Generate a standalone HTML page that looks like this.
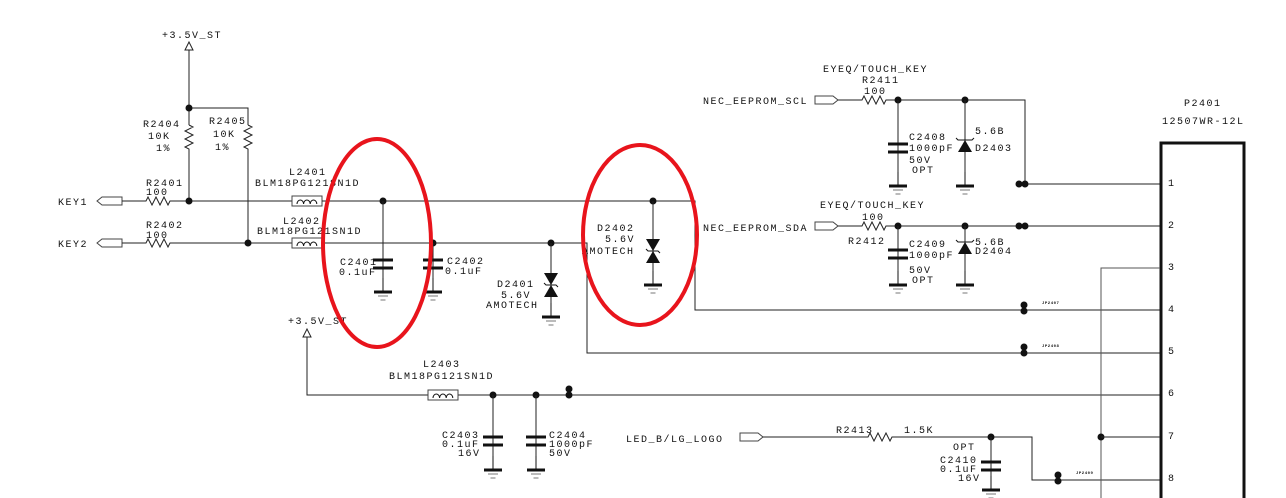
<!DOCTYPE html>
<html><head><meta charset="utf-8"><style>
html,body{margin:0;padding:0;background:#fff;}
svg{display:block;}
text{font-family:"Liberation Mono",monospace;font-size:10px;letter-spacing:1.5px;fill:#111;}
.w{stroke:#222;stroke-width:1;fill:none;}
.g{stroke:#555;stroke-width:1;fill:none;}
.small{font-size:4px;letter-spacing:0.5px;font-weight:bold;}
</style></head><body>
<svg width="1286" height="498" viewBox="0 0 1286 498" xmlns="http://www.w3.org/2000/svg">
<defs>
  <g id="gnd"><line x1="0" y1="-14" x2="0" y2="0" stroke="#111"/><rect x="-9" y="-1.5" width="18" height="3" fill="#111"/><line x1="-5" y1="4" x2="5" y2="4" stroke="#777"/><line x1="-2.5" y1="8" x2="2.5" y2="8" stroke="#777"/></g>
  <g id="cap"><rect x="-10" y="-5.5" width="20" height="3" fill="#111"/><rect x="-10" y="2.5" width="20" height="3" fill="#111"/></g>
  <g id="ind"><rect x="0" y="-5" width="30" height="10" fill="#fff" stroke="#444"/><path d="M5,3 a3.3,4 0 1 1 6.6,0 a3.3,4 0 1 1 6.6,0 a3.3,4 0 1 1 6.6,0" fill="none" stroke="#111"/></g>
  <g id="tvs"><polygon points="-7,0 7,0 0,12" fill="#111"/><polygon points="-7,24 7,24 0,12" fill="#111"/><path d="M-7,10 l2,2 h10 l2,2" stroke="#111" fill="none"/></g>
  <g id="zen"><polygon points="-7,12 7,12 0,0" fill="#111"/><path d="M-9,-2 l2,2 h14 l2,-2" stroke="#111" fill="none"/></g>
  <g id="dd"><circle cx="0" cy="0" r="3.5" fill="#111"/><circle cx="0" cy="6" r="3.5" fill="#111"/></g>
  <g id="ddh"><circle cx="0" cy="0" r="3.5" fill="#111"/><circle cx="6" cy="0" r="3.5" fill="#111"/></g>
</defs>

<!-- top +3.5V_ST -->
<text x="162" y="38">+3.5V_ST</text>
<polygon points="189,42 185,50 193,50" fill="#fff" stroke="#222"/>
<path class="w" d="M189,50 V125 M189,108 H248 V125"/>
<path class="w" d="M189,125 l4,2 l-8,4 l8,4 l-8,4 l8,4 l-8,4 l4,2 V201"/>
<path class="w" d="M248,125 l4,2 l-8,4 l8,4 l-8,4 l8,4 l-8,4 l4,2 V243"/>
<circle cx="189" cy="108" r="3.5" fill="#111"/>
<text x="143" y="127">R2404</text><text x="148" y="139">10K</text><text x="156" y="151">1%</text>
<text x="209" y="124">R2405</text><text x="213" y="137">10K</text><text x="215" y="150">1%</text>

<!-- KEY lines -->
<text x="58" y="205">KEY1</text>
<path d="M97,201 l5,-4 h20 v8 h-20 z" fill="#fff" stroke="#444"/>
<path class="w" d="M122,201 H146 l2,-4 l4,8 l4,-8 l4,8 l4,-8 l4,8 l2,-4 H293"/>
<text x="146" y="186">R2401</text><text x="146" y="195">100</text>
<circle cx="189" cy="201" r="3.5" fill="#111"/>
<text x="58" y="247">KEY2</text>
<path d="M97,243 l5,-4 h20 v8 h-20 z" fill="#fff" stroke="#444"/>
<path class="w" d="M122,243 H146 l2,-4 l4,8 l4,-8 l4,8 l4,-8 l4,8 l2,-4 H293"/>
<text x="146" y="228">R2402</text><text x="146" y="238">100</text>
<circle cx="248" cy="243" r="3.5" fill="#111"/>

<use href="#ind" x="292" y="201"/>
<use href="#ind" x="292" y="243"/>
<text x="289" y="175">L2401</text><text x="255" y="186">BLM18PG121SN1D</text>
<text x="283" y="224">L2402</text><text x="257" y="234">BLM18PG121SN1D</text>

<path class="w" d="M322,201 H695 V310 H1160"/>
<path class="w" d="M322,243 H587 V353 H1160"/>
<circle cx="383" cy="201" r="3.5" fill="#111"/>
<path class="w" d="M383,201 V292"/>
<use href="#cap" x="383" y="264"/>
<use href="#gnd" x="383" y="292"/>
<text x="340" y="265">C2401</text><text x="339" y="275">0.1uF</text>
<circle cx="433" cy="243" r="3.5" fill="#111"/>
<path class="w" d="M433,243 V292"/>
<use href="#cap" x="433" y="264"/>
<use href="#gnd" x="433" y="292"/>
<text x="447" y="264">C2402</text><text x="445" y="274">0.1uF</text>
<circle cx="551" cy="243" r="3.5" fill="#111"/>
<path class="w" d="M551,243 V316"/>
<use href="#tvs" x="551" y="273"/>
<use href="#gnd" x="551" y="317"/>
<text x="497" y="287">D2401</text><text x="501" y="298">5.6V</text><text x="486" y="308">AMOTECH</text>
<circle cx="653" cy="201" r="3.5" fill="#111"/>
<path class="w" d="M653,201 V284"/>
<use href="#tvs" x="653" y="239"/>
<use href="#gnd" x="653" y="285"/>
<text x="597" y="231">D2402</text><text x="605" y="242">5.6V</text><text x="582" y="254">AMOTECH</text>

<!-- top right SCL -->
<text x="823" y="72">EYEQ/TOUCH_KEY</text><text x="862" y="83">R2411</text><text x="864" y="94">100</text>
<text x="703" y="104">NEC_EEPROM_SCL</text>
<path d="M815,96 h18 l5,4 l-5,4 h-18 z" fill="#fff" stroke="#444"/>
<path class="w" d="M838,100 H862 l2,-4 l4,8 l4,-8 l4,8 l4,-8 l4,8 l2,-4 H1025 V184 H1160"/>
<circle cx="898" cy="100" r="3.5" fill="#111"/><circle cx="965" cy="100" r="3.5" fill="#111"/>
<path class="w" d="M898,100 V185 M965,100 V185"/>
<use href="#cap" x="898" y="148"/><use href="#gnd" x="898" y="186"/>
<use href="#zen" x="965" y="140"/><use href="#gnd" x="965" y="186"/>
<text x="909" y="140">C2408</text><text x="909" y="151">1000pF</text><text x="909" y="163">50V</text><text x="912" y="173">OPT</text>
<text x="975" y="134">5.6B</text><text x="975" y="151">D2403</text>
<use href="#ddh" x="1019" y="184"/>

<!-- SDA -->
<text x="820" y="208">EYEQ/TOUCH_KEY</text><text x="862" y="220">100</text><text x="848" y="244">R2412</text>
<text x="703" y="231">NEC_EEPROM_SDA</text>
<path d="M815,222 h18 l5,4 l-5,4 h-18 z" fill="#fff" stroke="#444"/>
<path class="w" d="M838,226 H862 l2,-4 l4,8 l4,-8 l4,8 l4,-8 l4,8 l2,-4 H1160"/>
<circle cx="898" cy="226" r="3.5" fill="#111"/><circle cx="965" cy="226" r="3.5" fill="#111"/>
<path class="w" d="M898,226 V285 M965,226 V285"/>
<use href="#cap" x="898" y="254"/><use href="#gnd" x="898" y="285"/>
<use href="#zen" x="965" y="242"/><use href="#gnd" x="965" y="285"/>
<text x="909" y="247">C2409</text><text x="909" y="258">1000pF</text><text x="909" y="273">50V</text><text x="912" y="283">OPT</text>
<text x="975" y="245">5.6B</text><text x="975" y="254">D2404</text>
<use href="#ddh" x="1019" y="226"/>

<use href="#dd" x="1024" y="305"/><text class="small" x="1042" y="304">JP2407</text>
<use href="#dd" x="1024" y="347"/><text class="small" x="1042" y="347">JP2408</text>

<!-- bottom supply -->
<text x="288" y="324">+3.5V_ST</text>
<polygon points="307,329 303,337 311,337" fill="#fff" stroke="#222"/>
<path class="w" d="M307,337 V395 H428 M458,395 H1160"/>
<use href="#ind" x="428" y="395"/>
<text x="423" y="367">L2403</text><text x="389" y="379">BLM18PG121SN1D</text>
<circle cx="493" cy="395" r="3.5" fill="#111"/><circle cx="536" cy="395" r="3.5" fill="#111"/>
<use href="#dd" x="569" y="389"/>
<path class="w" d="M493,395 V470 M536,395 V470"/>
<use href="#cap" x="493" y="441"/><use href="#gnd" x="493" y="470"/>
<use href="#cap" x="536" y="441"/><use href="#gnd" x="536" y="470"/>
<text x="442" y="438">C2403</text><text x="442" y="447">0.1uF</text><text x="458" y="456">16V</text>
<text x="549" y="438">C2404</text><text x="549" y="447">1000pF</text><text x="549" y="456">50V</text>

<!-- LED -->
<text x="626" y="442">LED_B/LG_LOGO</text>
<path d="M740,433 h18 l5,4 l-5,4 h-18 z" fill="#fff" stroke="#444"/>
<path class="w" d="M763,437 H868 l2,-4 l4,8 l4,-8 l4,8 l4,-8 l4,8 l2,-4 H1032 V480 H1160"/>
<text x="836" y="433">R2413</text><text x="904" y="433">1.5K</text>
<circle cx="991" cy="437" r="3.5" fill="#111"/>
<path class="w" d="M991,437 V490"/>
<use href="#cap" x="991" y="466"/><use href="#gnd" x="991" y="490"/>
<text x="953" y="450">OPT</text><text x="940" y="463">C2410</text><text x="940" y="472">0.1uF</text><text x="958" y="481">16V</text>
<use href="#dd" x="1058" y="475"/><text class="small" x="1076" y="474">JP2409</text>

<!-- connector -->
<text x="1184" y="106">P2401</text><text x="1162" y="124">12507WR-12L</text>
<rect x="1161" y="143" width="83" height="370" fill="none" stroke="#111" stroke-width="3"/>
<path class="g" d="M1101,500 V268 H1160"/>
<circle cx="1101" cy="437" r="3.5" fill="#111"/>
<path class="w" d="M1101,437 H1160"/>
<text x="1168" y="186">1</text><text x="1168" y="228">2</text><text x="1168" y="270">3</text><text x="1168" y="312">4</text>
<text x="1168" y="354">5</text><text x="1168" y="396">6</text><text x="1168" y="439">7</text><text x="1168" y="481">8</text>

<!-- red ellipses -->
<ellipse cx="377" cy="243" rx="54" ry="104" fill="none" stroke="#e8141c" stroke-width="4"/>
<ellipse cx="640" cy="235" rx="57" ry="90" fill="none" stroke="#e8141c" stroke-width="4"/>
</svg>
</body></html>
